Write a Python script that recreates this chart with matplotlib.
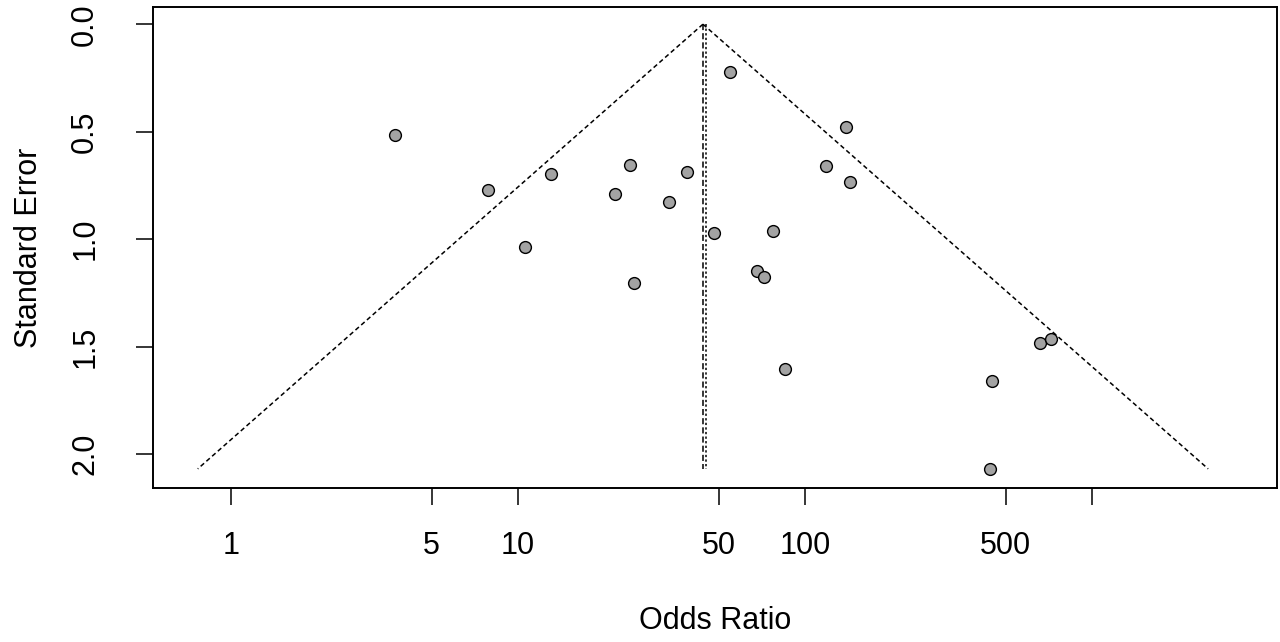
import numpy as np
import matplotlib
matplotlib.use("Agg")
import matplotlib.pyplot as plt

# study estimates
odds_ratio = [3.73, 7.86, 10.6, 13.0, 21.8, 24.5, 25.4, 33.6, 38.8, 54.8, 48.2,
              68.0, 71.9, 77.4, 85.1, 118.3, 139.0, 143.5, 448, 441, 659, 720]
std_error = [0.515, 0.771, 1.036, 0.696, 0.789, 0.654, 1.203, 0.827, 0.687, 0.222, 0.971,
             1.147, 1.175, 0.961, 1.603, 0.659, 0.478, 0.733, 1.659, 2.068, 1.482, 1.464]

# pooled estimates (vertical reference lines)
pooled_fixed = 44.1
pooled_random = 45.2

xticks = [1, 5, 10, 50, 100, 500, 1000]
xtick_labels = ["1", "5", "10", "50", "100", "500", ""]
yticks = [0.0, 0.5, 1.0, 1.5, 2.0]
ytick_labels = ["0.0", "0.5", "1.0", "1.5", "2.0"]

plt.rcParams['font.family'] = ['Liberation Sans', 'DejaVu Sans']

fig = plt.figure(figsize=(12.8, 6.42), dpi=100)
ax = fig.add_axes([153 / 1280, 1 - 488 / 642, 1124 / 1280, 481 / 642])

se_max = max(std_error)
se_line = np.array([0.0, se_max])
centre = np.log(pooled_fixed)

# funnel (95% pseudo confidence region)
ax.plot(np.exp(centre - 1.96 * se_line), se_line, color="black", lw=1.1,
        linestyle=(0, (3, 2)))
ax.plot(np.exp(centre + 1.96 * se_line), se_line, color="black", lw=1.1,
        linestyle=(0, (3, 2)))

# pooled estimate lines
ax.plot([pooled_fixed, pooled_fixed], se_line, color="black", lw=1.1, linestyle=(0, (4, 2)))
ax.plot([pooled_random, pooled_random], se_line, color="black", lw=1.1, linestyle=(0, (1.5, 1.5)))

ax.plot(odds_ratio, std_error, linestyle="none", marker="o", ms=8.5,
        mfc="#a3a3a3", mec="black", mew=1.0, zorder=3)

ax.set_xscale("log")
ax.set_xlim(10 ** -0.2718, 10 ** 3.6446)
ax.set_ylim(2.157, -0.080)

ax.set_xticks(xticks)
ax.set_xticklabels(xtick_labels)
ax.xaxis.set_minor_locator(matplotlib.ticker.NullLocator())
ax.set_yticks(yticks)
ax.set_yticklabels(ytick_labels, rotation=90, va="center")

ax.tick_params(axis="both", direction="out", length=12, width=1.1, labelsize=22,
               colors="black")
ax.tick_params(axis="x", pad=19)
ax.tick_params(axis="y", pad=26)

for s in ax.spines.values():
    s.set_linewidth(1.4)

ax.set_xlabel("Odds Ratio", fontsize=22)
ax.xaxis.set_label_coords(0.5, -0.245)
ax.set_ylabel("Standard Error", fontsize=22)
ax.yaxis.set_label_coords(-0.097, 0.5)

fig.savefig("out.png", dpi=100)
